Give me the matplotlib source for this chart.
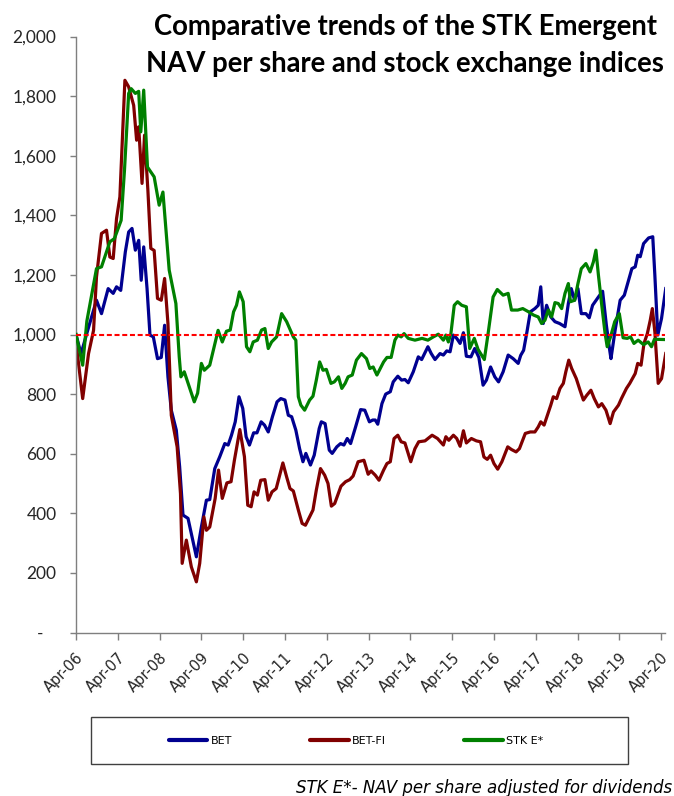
import matplotlib

matplotlib.use("Agg")
import matplotlib.pyplot as plt
from matplotlib.lines import Line2D
from matplotlib.patches import Rectangle
from matplotlib.ticker import FuncFormatter

# ---------- DATA (x = years since Apr-06) ----------
TICK_LABELS = [f"Apr-{y:02d}" for y in range(6, 21)]

bet_t = [0.00, 0.12, 0.28, 0.49, 0.61, 0.77, 0.89, 0.97, 1.07, 1.18, 1.26, 1.34, 1.42, 1.50, 1.56,
         1.62, 1.70, 1.77, 1.85, 1.95, 2.04, 2.12, 2.20, 2.28, 2.40, 2.48, 2.56, 2.68, 2.88, 3.00,
         3.12, 3.20, 3.32, 3.44, 3.56, 3.64, 3.72, 3.81, 3.90, 3.99, 4.07, 4.15, 4.25, 4.33, 4.43,
         4.51, 4.60, 4.70, 4.81, 4.90, 5.00, 5.08, 5.16, 5.26, 5.35, 5.43, 5.50, 5.61, 5.70, 5.82,
         5.87, 5.96, 6.06, 6.13, 6.24, 6.33, 6.41, 6.49, 6.57, 6.69, 6.81, 6.91, 7.02, 7.10, 7.16,
         7.22, 7.32, 7.41, 7.52, 7.59, 7.70, 7.79, 7.87, 7.95, 8.07, 8.19, 8.27, 8.42, 8.50, 8.59,
         8.71, 8.79, 8.87, 8.95, 9.03, 9.11, 9.19, 9.27, 9.34, 9.45, 9.54, 9.64, 9.74, 9.82, 9.92,
         10.02, 10.11, 10.22, 10.34, 10.46, 10.58, 10.64, 10.71, 10.79, 10.87, 10.98, 11.06, 11.12,
         11.18, 11.26, 11.36, 11.46, 11.57, 11.70, 11.78, 11.85, 11.93, 12.01, 12.09, 12.20, 12.28,
         12.36, 12.50, 12.60, 12.69, 12.77, 12.80, 12.90, 13.02, 13.12, 13.20, 13.30, 13.38, 13.44,
         13.50, 13.58, 13.70, 13.80, 13.85, 13.92, 14.01, 14.11]
bet_v = [1000, 935, 1014, 1115, 1070, 1154, 1138, 1160, 1148, 1277, 1344, 1356, 1283, 1316, 1182,
         1294, 1154, 998, 992, 919, 923, 1031, 858, 746, 679, 556, 394, 383, 254, 354,
         444, 446, 550, 590, 634, 629, 662, 707, 791, 752, 657, 629, 670, 670, 707,
         696, 673, 724, 774, 785, 780, 729, 724, 679, 617, 573, 601, 562, 595, 685,
         707, 701, 612, 601, 623, 634, 629, 651, 634, 690, 748, 746, 707, 713, 713,
         699, 768, 800, 808, 841, 860, 847, 849, 838, 875, 925, 916, 959, 936, 916,
         936, 931, 945, 942, 998, 987, 970, 1006, 927, 925, 953, 923, 830, 847, 891,
         858, 841, 875, 931, 919, 903, 930, 947, 1009, 1076, 1087, 1098, 1160,
         1037, 1098, 1059, 1043, 1037, 1026, 1104, 1154, 1115, 1154, 1070, 1070, 1056,
         1098, 1126, 1145, 1031, 947, 919, 1015, 1115, 1132, 1171, 1221, 1227, 1266,
         1261, 1305, 1324, 1328, 1199, 998, 1054, 1154]

betfi_t = [0.00, 0.16, 0.30, 0.42, 0.49, 0.61, 0.73, 0.81, 0.89, 0.97, 1.05, 1.17, 1.26, 1.38, 1.45,
           1.50, 1.58, 1.64, 1.72, 1.79, 1.87, 1.95, 2.04, 2.12, 2.20, 2.24, 2.28, 2.42, 2.50, 2.54,
           2.64, 2.76, 2.88, 2.96, 3.06, 3.12, 3.20, 3.33, 3.41, 3.50, 3.61, 3.71, 3.79, 3.92, 4.03,
           4.11, 4.19, 4.26, 4.34, 4.42, 4.52, 4.60, 4.69, 4.79, 4.95, 5.04, 5.12, 5.20, 5.32, 5.41,
           5.49, 5.59, 5.67, 5.75, 5.85, 5.95, 6.03, 6.11, 6.19, 6.34, 6.45, 6.55, 6.63, 6.75, 6.89,
           6.99, 7.06, 7.16, 7.25, 7.36, 7.44, 7.52, 7.61, 7.70, 7.78, 7.87, 8.01, 8.11, 8.20, 8.35,
           8.52, 8.65, 8.79, 8.85, 8.92, 9.03, 9.11, 9.19, 9.27, 9.34, 9.46, 9.58, 9.68, 9.76, 9.84,
           9.92, 10.00, 10.09, 10.19, 10.33, 10.42, 10.53, 10.61, 10.75, 10.87, 10.98, 11.06, 11.12,
           11.20, 11.28, 11.36, 11.42, 11.50, 11.58, 11.66, 11.72, 11.79, 11.86, 11.97, 12.06, 12.14,
           12.22, 12.32, 12.40, 12.50, 12.58, 12.68, 12.78, 12.86, 12.98, 13.05, 13.17, 13.25, 13.38,
           13.44, 13.52, 13.59, 13.67, 13.74, 13.79, 13.85, 13.93, 14.01, 14.11]
betfi_v = [975, 785, 936, 1014, 1193, 1339, 1350, 1260, 1255, 1389, 1462, 1853, 1831, 1769, 1652,
           1697, 1507, 1669, 1484, 1289, 1282, 1121, 1115, 1188, 1037, 891, 729, 623, 466, 232,
           310, 220, 170, 232, 388, 343, 354, 450, 545, 450, 502, 506, 578, 681, 590,
           427, 422, 472, 461, 511, 513, 444, 472, 483, 569, 522, 483, 475, 411, 366,
           360, 388, 411, 478, 550, 528, 500, 424, 433, 491, 506, 513, 525, 573, 578,
           531, 542, 528, 511, 545, 567, 573, 651, 662, 640, 636, 573, 617, 640, 643,
           662, 651, 629, 657, 645, 662, 651, 625, 677, 636, 651, 643, 640, 589, 581,
           595, 567, 548, 573, 623, 614, 606, 617, 668, 673, 673, 690, 707,
           696, 729, 763, 791, 785, 819, 836, 875, 914, 886, 852, 813, 780,
           796, 813, 785, 757, 768, 746, 701, 740, 763, 785, 819, 836, 869,
           903, 897, 970, 1003, 1048, 1087, 1009, 836, 852, 936]

stk_t = [0.00, 0.16, 0.26, 0.49, 0.61, 0.81, 0.92, 1.08, 1.16, 1.26, 1.32, 1.42, 1.50, 1.55, 1.62,
         1.71, 1.87, 1.99, 2.08, 2.23, 2.39, 2.47, 2.51, 2.59, 2.83, 2.91, 3.00, 3.07, 3.20, 3.40,
         3.50, 3.60, 3.69, 3.77, 3.84, 3.91, 4.00, 4.08, 4.16, 4.24, 4.34, 4.44, 4.52, 4.60, 4.68,
         4.80, 4.92, 5.04, 5.20, 5.26, 5.32, 5.38, 5.47, 5.59, 5.67, 5.75, 5.83, 5.91, 5.99, 6.10,
         6.18, 6.28, 6.36, 6.44, 6.51, 6.61, 6.71, 6.83, 6.95, 7.03, 7.11, 7.20, 7.36, 7.44, 7.54,
         7.63, 7.70, 7.78, 7.85, 7.95, 8.11, 8.28, 8.42, 8.55, 8.67, 8.79, 8.85, 8.91, 8.97, 9.05,
         9.13, 9.23, 9.34, 9.42, 9.53, 9.62, 9.77, 9.86, 9.98, 10.08, 10.22, 10.34, 10.42, 10.57,
         10.69, 10.83, 10.95, 11.06, 11.14, 11.22, 11.30, 11.38, 11.46, 11.54, 11.62, 11.70, 11.78,
         11.83, 11.93, 12.01, 12.09, 12.20, 12.30, 12.38, 12.44, 12.50, 12.58, 12.66, 12.71, 12.79,
         12.89, 13.00, 13.09, 13.19, 13.27, 13.35, 13.45, 13.58, 13.69, 13.77, 13.84, 14.10]
stk_v = [1000, 897, 1045, 1221, 1227, 1311, 1322, 1383, 1551, 1809, 1825, 1809, 1816, 1680, 1820,
         1562, 1529, 1434, 1478, 1216, 1104, 925, 858, 875, 774, 803, 903, 880, 897, 1014,
         975, 1011, 1015, 1076, 1098, 1143, 1110, 959, 942, 975, 981, 1015, 1020, 953, 975,
         992, 1070, 1043, 992, 981, 791, 763, 746, 780, 793, 847, 908, 880, 883, 836,
         841, 858, 819, 836, 858, 864, 914, 936, 919, 886, 891, 864, 908, 923, 923,
         981, 998, 992, 1003, 987, 981, 987, 981, 992, 1001, 981, 998, 975, 1003, 1098,
         1110, 1098, 1093, 953, 987, 950, 916, 1003, 1126, 1151, 1132, 1138, 1082, 1082,
         1087, 1076, 1065, 1059, 1037, 1048, 1082, 1059, 1107, 1104, 1087, 1138, 1171,
         1110, 1115, 1171, 1221, 1238, 1210, 1244, 1283, 1199, 1098, 1003, 959, 992,
         1043, 1070, 989, 987, 992, 970, 981, 966, 975, 959, 984, 983]

BASE_LEVEL = 1000

COLOR_BET = "#000090"
COLOR_BETFI = "#800000"
COLOR_STK = "#008000"

W, H = 674, 796


def fx(px):
    return px / W


def fy(py):
    return 1 - py / H


fig = plt.figure(figsize=(W / 100, H / 100), dpi=100)
fig.patch.set_facecolor("white")

# axes area measured in pixels: left 76, right 665, top (2000) 36.5, bottom (0) 632.5
ax = fig.add_axes([fx(76), fy(632.5), fx(665.3) - fx(76), fy(36.5) - fy(632.5)])

ax.plot(bet_t, bet_v, color=COLOR_BET, linewidth=2.3, zorder=2)
ax.plot(betfi_t, betfi_v, color=COLOR_BETFI, linewidth=2.3, zorder=2)
ax.plot(stk_t, stk_v, color=COLOR_STK, linewidth=2.3, zorder=3)
ax.axhline(BASE_LEVEL, color="#FF0000", linewidth=1.5, linestyle=(0, (2.4, 1.3)), zorder=4)

ax.set_xlim(0, 14.1)
ax.set_ylim(0, 2000)
ax.set_yticks(range(0, 2001, 200))
ax.yaxis.set_major_formatter(FuncFormatter(lambda v, p: "-   " if v == 0 else f"{int(v):,}"))
ax.set_xticks(range(len(TICK_LABELS)))
ax.set_xticklabels(TICK_LABELS, rotation=45, ha="right", rotation_mode="anchor")

for spine in ["top", "right"]:
    ax.spines[spine].set_visible(False)
for spine in ["left", "bottom"]:
    ax.spines[spine].set_color("#7f7f7f")
    ax.spines[spine].set_linewidth(1.0)

ax.tick_params(axis="y", direction="out", length=4.3, width=1, color="#7f7f7f", pad=9.7,
               labelsize=12.5, labelcolor="#262626")
ax.tick_params(axis="x", direction="out", length=4.8, width=1, color="#7f7f7f", pad=8.0,
               labelsize=10.5, labelcolor="#262626")
for lab in ax.get_yticklabels():
    lab.set_family("Lato")
for lab in ax.get_xticklabels():
    lab.set_family("DejaVu Sans")

# title
fig.text(fx(405), fy(27), "Comparative trends of the STK Emergent", ha="center", va="center",
         fontsize=19.8, fontweight="bold", family="Lato", color="black")
fig.text(fx(405), fy(64), "NAV per share and stock exchange indices", ha="center", va="center",
         fontsize=19.8, fontweight="bold", family="Lato", color="black")

# legend in a separate box
fig.patches.append(Rectangle((fx(91), fy(764)), fx(628) - fx(91), fy(717) - fy(764),
                             transform=fig.transFigure, fill=False, edgecolor="#404040",
                             linewidth=1.0))
handles = [
    Line2D([], [], color=COLOR_BET, linewidth=3, solid_capstyle="round"),
    Line2D([], [], color=COLOR_BETFI, linewidth=3, solid_capstyle="round"),
    Line2D([], [], color=COLOR_STK, linewidth=3, solid_capstyle="round"),
]
fig.legend(handles, ["BET", "BET-FI", "STK E*"], loc="center",
           bbox_to_anchor=(fx(356), fy(740.5)), ncol=3, frameon=False, fontsize=8,
           handlelength=3.5, handletextpad=0.3, columnspacing=7.0)

fig.text(fx(672), fy(788), "STK E*- NAV per share adjusted for dividends", ha="right",
         va="center", fontsize=12, style="italic", family="DejaVu Sans", color="black")

fig.savefig("out.png", dpi=100)
plt.close(fig)
